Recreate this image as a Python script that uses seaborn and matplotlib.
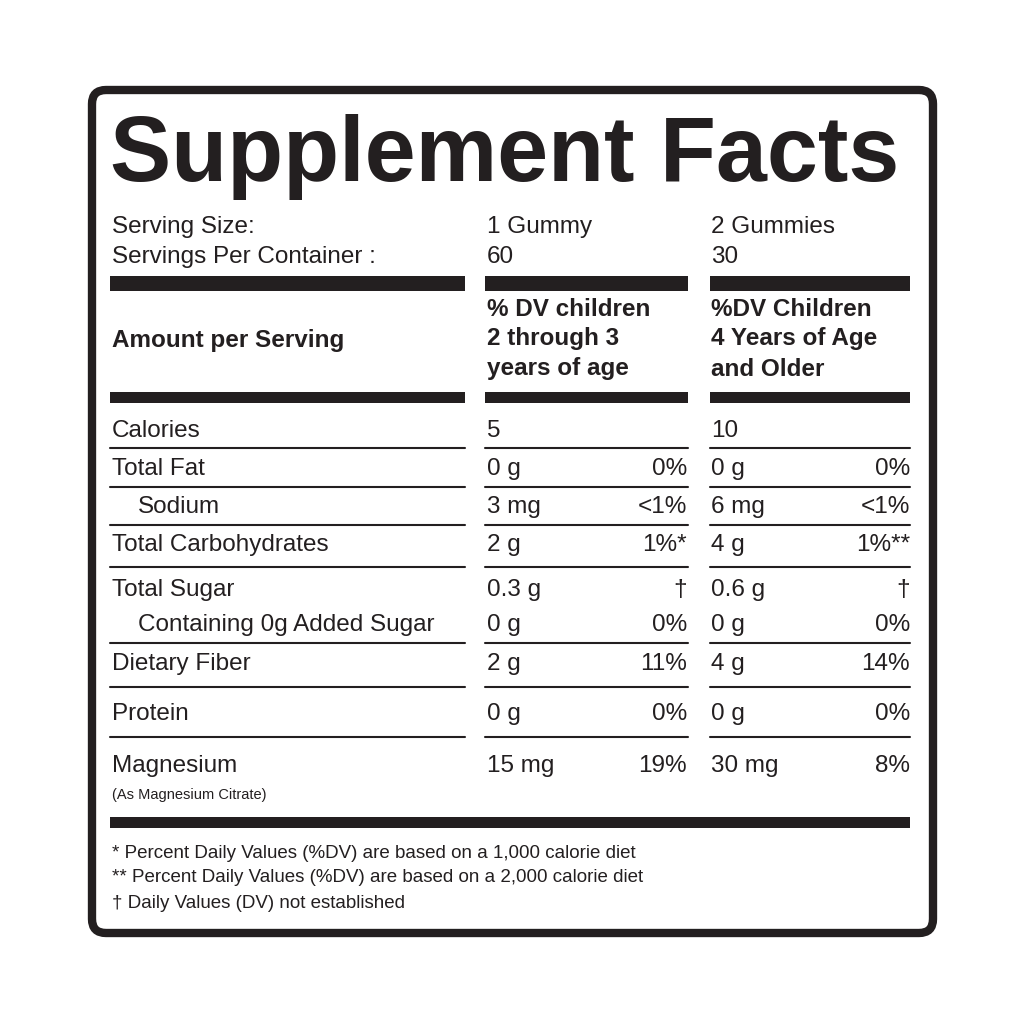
import matplotlib
matplotlib.use("Agg")
import matplotlib.pyplot as plt
import seaborn as sns
from matplotlib.patches import FancyBboxPatch, Rectangle

sns.set_theme(style="white")
plt.rcParams['font.family'] = ['Liberation Sans', 'DejaVu Sans']

title = "Supplement Facts"
serving_labels = ["Serving Size:", "Servings Per Container :"]
serving_col1 = ["1 Gummy", "60"]
serving_col2 = ["2 Gummies", "30"]
header_left = "Amount per Serving"
header_col1 = ["% DV children", "2 through 3", "years of age"]
header_col2 = ["%DV Children", "4 Years of Age", "and Older"]
nutrients = ["Calories", "Total Fat", "Sodium", "Total Carbohydrates", "Total Sugar",
             "Containing 0g Added Sugar", "Dietary Fiber", "Protein", "Magnesium"]
indented = [False, False, True, False, False, True, False, False, False]
amount1 = ["5", "0 g", "3 mg", "2 g", "0.3 g", "0 g", "2 g", "0 g", "15 mg"]
dv1 = ["", "0%", "<1%", "1%*", "†", "0%", "11%", "0%", "19%"]
amount2 = ["10", "0 g", "6 mg", "4 g", "0.6 g", "0 g", "4 g", "0 g", "30 mg"]
dv2 = ["", "0%", "<1%", "1%**", "†", "0%", "14%", "0%", "8%"]
sub_note = "(As Magnesium Citrate)"
footnotes = ["* Percent Daily Values (%DV) are based on a 1,000 calorie diet",
             "** Percent Daily Values (%DV) are based on a 2,000 calorie diet",
             "† Daily Values (DV) not established"]

row_y = [431, 469, 507, 545, 590, 625, 664, 714, 766]
line_y = [448, 487, 525, 567, 643, 687, 737]

fig = plt.figure(figsize=(10.24, 10.24), dpi=100)
ax = fig.add_axes([0, 0, 1, 1])
ax.set_xlim(0, 1024); ax.set_ylim(1024, 0); ax.axis('off')

ax.add_patch(FancyBboxPatch((92, 90), 841, 843, boxstyle="round,pad=0,rounding_size=14",
                            fill=False, lw=6, ec='#231f20'))
ax.text(110, 157, title, fontsize=66, fontweight='bold',
        va='center', ha='left', color='#231f20')

cols = [(110, 465), (485, 688), (710, 910)]
def bar(y, h):
    for a, b in cols:
        ax.add_patch(Rectangle((a, y - h/2), b - a, h, color='#231f20', lw=0))
bar(283, 15); bar(397, 11)
ax.add_patch(Rectangle((110, 817), 800, 11, color='#231f20', lw=0))
for y in line_y:
    for a, b in cols:
        ax.plot([a, b], [y, y], color='#231f20', lw=1.5)

fs = 17.5
c = '#231f20'
for i, y in enumerate([227, 257]):
    ax.text(112, y, serving_labels[i], fontsize=fs, va='center', color=c)
    ax.text(487, y, serving_col1[i], fontsize=fs, va='center', color=c)
    ax.text(711, y, serving_col2[i], fontsize=fs, va='center', color=c)
ax.text(112, 340, header_left, fontsize=fs, fontweight='bold', va='center', color=c)
for i, y in enumerate([309, 339, 369]):
    ax.text(487, y, header_col1[i], fontsize=fs, fontweight='bold', va='center', color=c)
    ax.text(711, y, header_col2[i], fontsize=fs, fontweight='bold', va='center', color=c)
for i, y in enumerate(row_y):
    ax.text(138 if indented[i] else 112, y, nutrients[i], fontsize=fs, va='center', color=c)
    ax.text(487, y, amount1[i], fontsize=fs, va='center', color=c)
    ax.text(687, y, dv1[i], fontsize=fs, va='center', ha='right', color=c)
    ax.text(711, y, amount2[i], fontsize=fs, va='center', color=c)
    ax.text(910, y, dv2[i], fontsize=fs, va='center', ha='right', color=c)
ax.text(112, 795, sub_note, fontsize=10.5, va='center', color=c)
for i, y in enumerate([853, 878, 903]):
    ax.text(112, y, footnotes[i], fontsize=13.5, va='center', color=c)

fig.savefig("out.png", dpi=100, facecolor='white')
